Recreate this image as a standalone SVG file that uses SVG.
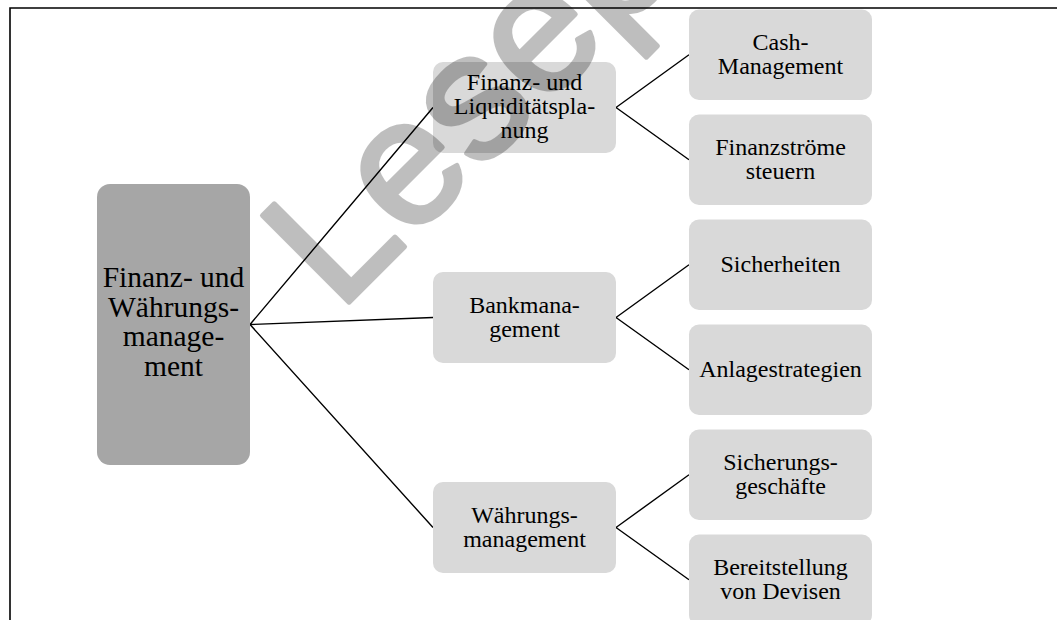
<svg xmlns="http://www.w3.org/2000/svg" width="1057" height="620" viewBox="0 0 1057 620">
<style>
.root{fill:#a6a6a6}
.box{fill:#d9d9d9}
.t{font-family:"Liberation Serif","Times New Roman",serif;fill:#000;text-anchor:middle}
.t24{font-size:24px}
.t30{font-size:29.5px}
.conn{stroke:#000;stroke-width:1.4;fill:none}
.frame{stroke:#000;stroke-width:1.6;fill:none}
.wm{font-family:"Liberation Sans",Arial,sans-serif;font-size:178px;fill:#000;stroke:#000;stroke-width:5;stroke-linejoin:round}
</style>
<rect width="1057" height="620" fill="#fff"/>
<path class="frame" d="M10,620 V8 H1057"/>
<g id="connectors">
<path class="conn" d="M250,324.5 L433,107.5 M250,324.5 L433,317.5 M250,324.5 L433,527.5"/>
<path class="conn" d="M616,107.5 L689,54.75 M616,107.5 L689,159.75"/>
<path class="conn" d="M616,317.5 L689,264.75 M616,317.5 L689,369.75"/>
<path class="conn" d="M616,527.5 L689,474.75 M616,527.5 L689,579.75"/>
</g>
<g id="n-root"><rect class="root" x="97" y="184" width="153" height="281" rx="13"/>
<text class="t t30" x="173.5" y="287">Finanz- und</text>
<text class="t t30" x="173.5" y="316.5">Währungs-</text>
<text class="t t30" x="173.5" y="346">manage-</text>
<text class="t t30" x="173.5" y="375.5">ment</text></g>
<g id="n-liq"><rect class="box" x="433" y="62" width="183" height="91" rx="10"/>
<text class="t t24" x="524.5" y="90">Finanz- und</text>
<text class="t t24" x="524.5" y="114">Liquiditätspla-</text>
<text class="t t24" x="524.5" y="138">nung</text></g>
<g id="n-bank"><rect class="box" x="433" y="272" width="183" height="91" rx="10"/>
<text class="t t24" x="524.5" y="313">Bankmana-</text>
<text class="t t24" x="524.5" y="337">gement</text></g>
<g id="n-waehr"><rect class="box" x="433" y="482" width="183" height="91" rx="10"/>
<text class="t t24" x="524.5" y="523">Währungs-</text>
<text class="t t24" x="524.5" y="547">management</text></g>
<g id="n-cash"><rect class="box" x="689" y="9.5" width="183" height="90.5" rx="10"/>
<text class="t t24" x="780.5" y="50.25">Cash-</text>
<text class="t t24" x="780.5" y="74.25">Management</text></g>
<g id="n-strom"><rect class="box" x="689" y="114.5" width="183" height="90.5" rx="10"/>
<text class="t t24" x="780.5" y="155.25">Finanzströme</text>
<text class="t t24" x="780.5" y="179.25">steuern</text></g>
<g id="n-sich"><rect class="box" x="689" y="219.5" width="183" height="90.5" rx="10"/>
<text class="t t24" x="780.5" y="272">Sicherheiten</text></g>
<g id="n-anl"><rect class="box" x="689" y="324.5" width="183" height="90.5" rx="10"/>
<text class="t t24" x="780.5" y="377">Anlagestrategien</text></g>
<g id="n-sgesch"><rect class="box" x="689" y="429.5" width="183" height="90.5" rx="10"/>
<text class="t t24" x="780.5" y="470.25">Sicherungs-</text>
<text class="t t24" x="780.5" y="494.25">geschäfte</text></g>
<g id="n-devisen"><rect class="box" x="689" y="534.5" width="183" height="90.5" rx="10"/>
<text class="t t24" x="780.5" y="575.25">Bereitstellung</text>
<text class="t t24" x="780.5" y="599.25">von Devisen</text></g>
<g id="watermark" opacity="0.25"><text class="wm" transform="translate(338.8,312.4) rotate(-45)">Lesep</text></g>
</svg>
